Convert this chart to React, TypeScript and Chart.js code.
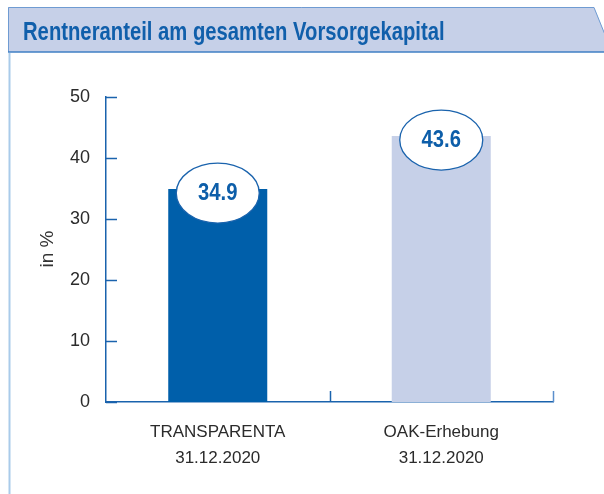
import React, { useEffect, useRef } from "react";
import { Chart, registerables } from "chart.js";

Chart.register(...registerables);

const TITLE = "Rentneranteil am gesamten Vorsorgekapital";
const CATEGORIES: string[][] = [
  ["TRANSPARENTA", "31.12.2020"],
  ["OAK-Erhebung", "31.12.2020"],
];
const VALUES: number[] = [34.9, 43.6];
const BAR_COLORS: string[] = ["#005faa", "#c6d0e8"];
const Y_TICKS: number[] = [0, 10, 20, 30, 40, 50];
const Y_TITLE = "in %";

const BLUE = "#1a63ad";

function condensedText(ctx: any, text: string, x: number, y: number, sx: number) {
  ctx.save();
  ctx.translate(x, y);
  ctx.scale(sx, 1);
  ctx.fillText(text, 0, 0);
  ctx.restore();
}

const decorPlugin = {
  id: "decor",
  beforeDraw(chart: any) {
    const ctx = chart.ctx;
    ctx.save();
    ctx.fillStyle = "#ffffff";
    ctx.fillRect(0, 0, chart.width, chart.height);
    // title bar
    ctx.beginPath();
    ctx.moveTo(8, 7);
    ctx.lineTo(594, 7);
    ctx.lineTo(612, 52);
    ctx.lineTo(8, 52);
    ctx.closePath();
    ctx.fillStyle = "#c6d0e8";
    ctx.fill();
    ctx.beginPath();
    ctx.moveTo(8.5, 52);
    ctx.lineTo(8.5, 7.5);
    ctx.lineTo(594, 7.5);
    ctx.lineTo(612, 52);
    ctx.strokeStyle = "#6f9bd2";
    ctx.lineWidth = 1;
    ctx.stroke();
    ctx.beginPath();
    ctx.moveTo(8, 52);
    ctx.lineTo(604, 52);
    ctx.strokeStyle = "#3f7fc4";
    ctx.lineWidth = 1.5;
    ctx.stroke();
    // left rule
    ctx.beginPath();
    ctx.moveTo(9.5, 53);
    ctx.lineTo(9.5, chart.height);
    ctx.strokeStyle = "#a9cbea";
    ctx.lineWidth = 2;
    ctx.stroke();
    // title text
    ctx.fillStyle = "#105fab";
    ctx.font = "bold 25px 'Liberation Sans', sans-serif";
    ctx.textAlign = "left";
    ctx.textBaseline = "alphabetic";
    condensedText(ctx, TITLE, 23, 40, 0.81);
    ctx.restore();
  },
  afterDraw(chart: any) {
    const ctx = chart.ctx;
    const area = chart.chartArea;
    const xs = chart.scales.x;
    const ys = chart.scales.y;
    ctx.save();
    ctx.strokeStyle = BLUE;
    ctx.lineWidth = 1.5;
    // y tick marks (inward)
    Y_TICKS.forEach((v) => {
      const py = Math.round(ys.getPixelForValue(v)) + 0.5;
      ctx.beginPath();
      ctx.moveTo(area.left, py);
      ctx.lineTo(area.left + 11, py);
      ctx.stroke();
    });
    // x boundary ticks (inward)
    const bounds: number[] = [];
    for (let i = 0; i < CATEGORIES.length - 1; i++) {
      bounds.push((xs.getPixelForValue(i) + xs.getPixelForValue(i + 1)) / 2);
    }
    bounds.push(area.right);
    bounds.forEach((bx, i) => {
      ctx.beginPath();
      ctx.strokeStyle = i === bounds.length - 1 ? "#5b8fcc" : BLUE;
      ctx.moveTo(Math.round(bx) + 0.5, area.bottom);
      ctx.lineTo(Math.round(bx) + 0.5, area.bottom - 11);
      ctx.stroke();
    });
    // value ellipses
    const meta = chart.getDatasetMeta(0);
    meta.data.forEach((bar: any, i: number) => {
      const cx = bar.x;
      const cy = bar.y + 4;
      ctx.beginPath();
      ctx.ellipse(cx, cy, 41.5, 30, 0, 0, Math.PI * 2);
      ctx.fillStyle = "#ffffff";
      ctx.fill();
      ctx.strokeStyle = BLUE;
      ctx.lineWidth = 1.3;
      ctx.stroke();
      ctx.fillStyle = "#0d5ea9";
      ctx.font = "bold 23px 'Liberation Sans', sans-serif";
      ctx.textAlign = "center";
      ctx.textBaseline = "middle";
      condensedText(ctx, VALUES[i].toFixed(1), cx, cy + 1, 0.88);
    });
    // y title
    ctx.save();
    ctx.translate(48, 249);
    ctx.rotate(-Math.PI / 2);
    ctx.fillStyle = "#333333";
    ctx.font = "19px 'Liberation Sans', sans-serif";
    ctx.textAlign = "center";
    ctx.textBaseline = "middle";
    ctx.fillText(Y_TITLE, 0, 0);
    ctx.restore();
    ctx.restore();
  },
};

export default function App() {
  const ref = useRef<HTMLCanvasElement | null>(null);
  useEffect(() => {
    if (!ref.current) return;
    const chart = new Chart(ref.current, {
      type: "bar",
      data: {
        labels: CATEGORIES,
        datasets: [
          {
            data: VALUES,
            backgroundColor: BAR_COLORS,
            borderWidth: 0,
            barPercentage: 0.443,
            categoryPercentage: 1,
          },
        ],
      },
      options: {
        responsive: false,
        animation: false,
        devicePixelRatio: 1,
        layout: { padding: { top: 97, right: 51, left: 0, bottom: 0 } },
        plugins: {
          legend: { display: false },
          tooltip: { enabled: false },
        },
        scales: {
          x: {
            offset: true,
            grid: { display: false, drawTicks: false },
            border: { display: true, color: BLUE, width: 1.5 },
            ticks: {
              color: "#2b2b2b",
              padding: 17,
              font: { family: "'Liberation Sans', sans-serif", size: 17, lineHeight: 1.53 },
            },
            afterFit: (s: any) => {
              s.height = 92;
            },
          },
          y: {
            min: 0,
            max: 50,
            afterBuildTicks: (s: any) => {
              s.ticks = Y_TICKS.map((v) => ({ value: v }));
            },
            grid: { display: false, drawTicks: false },
            border: { display: true, color: BLUE, width: 1.5 },
            ticks: {
              color: "#2b2b2b",
              padding: 16,
              font: { family: "'Liberation Sans', sans-serif", size: 18 },
            },
            afterFit: (s: any) => {
              s.width = 106;
            },
          },
        },
      },
      plugins: [decorPlugin],
    } as any);
    return () => chart.destroy();
  }, []);
  return (
    <div style={{ position: "fixed", left: 0, top: 0, width: 604, height: 494 }}>
      <canvas ref={ref} width={604} height={494} style={{ display: "block", width: 604, height: 494 }} />
    </div>
  );
}
